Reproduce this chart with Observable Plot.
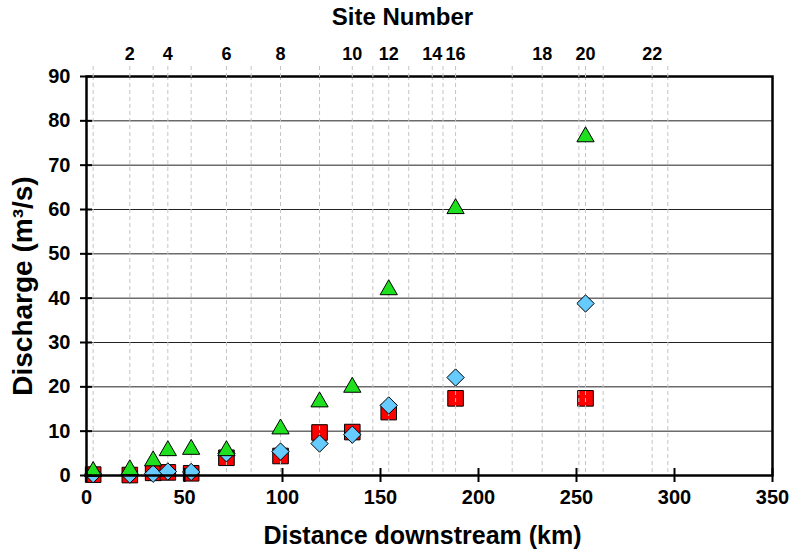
<!DOCTYPE html>
<html>
<head>
<meta charset="utf-8">
<script src="https://cdn.jsdelivr.net/npm/d3@7"></script>
<script src="https://cdn.jsdelivr.net/npm/@observablehq/plot@0.6"></script>
<style>
  html, body { margin: 0; padding: 0; background: #fff; }
  #chart { width: 797px; height: 558px; }
</style>
</head>
<body>
<div id="chart"></div>
<script>
// Site positions along the river (top axis)
const siteNumbers = [1, 2, 3, 4, 5, 6, 7, 8, 9, 10, 11, 12, 13, 14, 15, 16, 17, 18, 19, 20, 21, 22, 23];
const siteKm = [3.4, 22.1, 34.0, 41.5, 53.4, 71.4, 84.0, 99.0, 118.9, 135.6, 146.1, 154.2, 164.4, 176.4, 181.9, 188.3, 217.2, 232.5, 251.2, 254.6, 263.6, 288.6, 296.6];

// Sampled sites and discharge series (m3/s)
const sampledSites = [1, 2, 3, 4, 5, 6, 8, 9, 10, 12, 16, 20];
const lowFlow  = [0.2, 0.1, 0.6, 0.7, 0.5, 4.0, 4.4, 9.7, 9.8, 14.3, 17.4, 17.4];
const midFlow  = [0.3, 0.2, 0.4, 0.9, 0.8, 5.0, 5.4, 7.2, 9.2, 15.8, 22.1, 38.8];
const highFlow = [0.9, 1.3, 3.3, 5.6, 5.9, 5.6, 10.5, 16.6, 19.9, 41.9, 60.2, 76.4];

// Axis ticks
const xTicks = [0, 50, 100, 150, 200, 250, 300, 350];
const yTicks = [0, 10, 20, 30, 40, 50, 60, 70, 80, 90];
const yGrid = [10, 20, 30, 40, 50, 60, 70, 80];

const kmOfSite = new Map(siteNumbers.map((s, i) => [s, siteKm[i]]));
const siteOfKm = new Map(siteKm.map((k, i) => [k, siteNumbers[i]]));
const rows = (vals) => sampledSites.map((s, i) => ({km: kmOfSite.get(s), q: vals[i]}));

const font = "'Liberation Sans', Arial, Helvetica, sans-serif";

const chart = Plot.plot({
  width: 797,
  height: 558,
  marginLeft: 86,
  marginRight: 25,
  marginTop: 76,
  marginBottom: 83,
  style: {fontFamily: font, background: "#fff", color: "#000"},
  x: {domain: [0, 350], axis: null},
  y: {domain: [0, 90], axis: null},
  marks: [
    Plot.ruleY(yGrid, {stroke: "#222", strokeWidth: 1}),
    Plot.dot(rows(lowFlow), {x: "km", y: "q", symbol: "square", r: 8.8, fill: "#ff0000", stroke: "#000", strokeWidth: 1}),
    Plot.ruleX(siteKm, {stroke: "#c4c4c4", strokeWidth: 1, strokeDasharray: "4,3"}),
    Plot.dot(rows(midFlow), {x: "km", y: "q", symbol: "diamond2", r: 7.8, fill: "#66ccff", stroke: "#000", strokeWidth: 1}),
    Plot.dot(rows(highFlow), {x: "km", y: "q", symbol: "triangle", r: 6.4, fill: "#1ee01e", stroke: "#000", strokeWidth: 1}),
    Plot.frame({stroke: "#000", strokeWidth: 2.5}),
    // y axis: crossing ticks + labels
    Plot.axisY({ticks: yTicks, tickSize: 12, dx: 6, fill: "none", strokeWidth: 2, label: null}),
    Plot.axisY({ticks: yTicks, tickSize: 6, tickPadding: 10, stroke: "none", fontSize: 20, fontWeight: "bold", label: null}),
    // bottom x axis: crossing ticks + labels
    Plot.axisX({ticks: xTicks, anchor: "bottom", tickSize: 14, dy: -7, fill: "none", strokeWidth: 2, label: null}),
    Plot.axisX({ticks: xTicks, anchor: "bottom", tickSize: 7, tickPadding: 7, stroke: "none", fontSize: 20, fontWeight: "bold", label: null}),
    // top axis: site numbers
    Plot.axisX(siteKm, {anchor: "top", tickSize: 13, stroke: "#c4c4c4", strokeDasharray: "4,3", fill: "none", label: null}),
    Plot.axisX(siteKm, {anchor: "top", tickSize: 13, tickPadding: 4, stroke: "none", fontSize: 18, fontWeight: "bold", label: null,
      tickFormat: (d) => { const s = siteOfKm.get(d); return s % 2 === 0 ? String(s) : ""; }}),
    // titles
    Plot.text(["Site Number"], {frameAnchor: "top", dx: -27, dy: -59, lineAnchor: "middle", textAnchor: "middle", fontSize: 24, fontWeight: "bold"}),
    Plot.text(["Distance downstream (km)"], {frameAnchor: "bottom", dx: -7, dy: 60, lineAnchor: "middle", textAnchor: "middle", fontSize: 25, fontWeight: "bold"}),
    Plot.text(["Discharge (m³/s)"], {frameAnchor: "left", dx: -63, dy: 10, rotate: -90, lineAnchor: "middle", textAnchor: "middle", fontSize: 28, fontWeight: "bold"})
  ]
});
document.getElementById("chart").appendChild(chart);
</script>
</body>
</html>
